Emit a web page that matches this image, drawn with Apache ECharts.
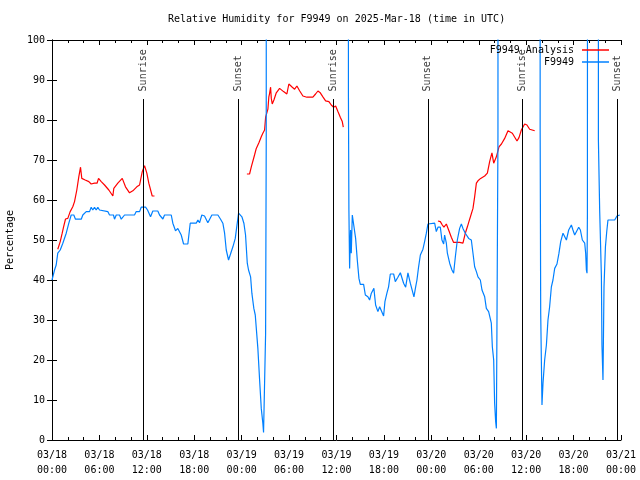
<!DOCTYPE html>
<html>
<head>
<meta charset="utf-8">
<script src="https://cdn.jsdelivr.net/npm/echarts@6/dist/echarts.min.js"></script>
<style>html,body{margin:0;padding:0;background:#fff}#c{width:640px;height:480px}</style>
</head>
<body>
<div id="c"></div>
<script>
const titleText = 'Relative Humidity for F9949 on 2025-Mar-18 (time in UTC)';
const tickLabels = ['03/18\n00:00','03/18\n06:00','03/18\n12:00','03/18\n18:00','03/19\n00:00','03/19\n06:00','03/19\n12:00','03/19\n18:00','03/20\n00:00','03/20\n06:00','03/20\n12:00','03/20\n18:00','03/21\n00:00'];
const seriesNames = ['F9949 Analysis', 'F9949'];

// Observations (hours since 03/18 00:00 UTC, %); 999 = off-scale values
const obsHours = [0.00,0.32,0.53,0.73,1.04,1.37,1.80,2.13,2.43,2.76,2.97,3.70,3.90,4.33,4.75,4.96,5.16,5.38,5.59,5.80,6.01,6.23,7.06,7.28,7.78,7.91,8.13,8.54,8.76,8.96,9.18,10.44,10.66,11.08,11.29,11.84,12.09,12.25,12.47,12.76,13.39,13.61,14.03,14.24,15.09,15.29,15.63,15.92,16.14,16.35,16.65,17.19,17.49,18.25,18.46,18.67,18.96,19.30,19.72,19.94,20.23,20.99,21.33,21.62,21.84,22.05,22.34,22.59,22.89,23.19,23.44,23.61,23.82,24.03,24.28,24.49,24.71,24.87,25.13,25.29,25.54,25.72,25.89,26.05,26.27,26.48,26.68,26.77,26.94,27.03,27.11,27.19,
  37.44,37.51,37.57,37.66,37.78,37.87,38.00,38.20,38.42,38.63,38.84,39.01,39.43,39.65,39.97,40.19,40.41,40.73,40.95,41.24,41.46,41.71,41.96,42.13,42.38,42.59,42.81,43.23,43.44,43.77,44.08,44.33,44.49,44.75,45.04,45.34,45.59,45.80,46.01,46.18,46.39,46.61,46.94,47.15,47.37,47.57,48.42,48.63,48.84,49.14,49.34,49.56,49.68,49.90,50.03,50.32,50.61,50.82,51.04,51.29,51.58,51.80,52.00,52.30,52.72,53.06,53.27,53.48,53.70,53.90,54.20,54.41,54.75,54.96,55.25,55.59,55.72,55.89,56.01,56.14,56.23,56.30,56.43,56.56,
  61.71,61.77,61.84,62.00,62.13,62.34,62.56,62.76,62.97,63.19,63.39,63.61,63.90,64.15,64.37,64.66,64.87,65.09,65.38,65.72,65.92,66.14,66.35,66.65,66.86,67.11,67.41,67.53,67.62,67.70,67.75,67.87,
  69.09,69.14,69.30,69.52,69.59,69.72,69.85,70.03,70.19,70.35,71.20,71.49,71.84];
const obsValues = [40,42.5,43.75,46.7,47.5,49.2,51.7,54.2,56.25,56.25,55.2,55.2,56.25,57.1,57.1,58.2,57.5,58.2,57.5,58.2,57.5,57.1,57.1,56.25,56.25,55.2,56.25,56.25,55.2,55.2,56.25,56.25,57.1,57.1,58.2,58.2,57.5,57.25,55.8,57.25,57.25,56.25,55.25,56.25,56.25,54.2,52.3,52.9,53.1,51.25,49,49,54.2,54.2,55,54.3,56.25,56,54.3,54.3,56.25,56.25,55.2,54.2,51.7,47.5,45,45,48.3,50.4,54.2,56.7,57.1,55.8,54.2,51.25,44.2,42.5,40.8,36.7,32.9,31.25,31.25,22.9,15,7.9,4.2,1.9,1.9,26.7,75.8,999,
  999,85.8,57.5,42.9,52.5,46.7,56.25,56.25,50.4,45,40.4,38.9,38.9,36.25,35.8,35,36.7,37.9,33.75,32.1,33.3,33.75,31,34.6,36.7,38.3,41.5,41.5,39.6,40.7,41.8,41.8,39.2,38.2,41.8,39.2,38.75,35.8,38.2,40,43.3,46.25,47.7,49.6,51.7,54,54.2,52.1,53.2,53.2,50,49,51.25,49.2,46.7,44.2,42.5,41.7,45.8,50,52.9,54,52.9,51.7,50.4,50,46.7,43.3,42.1,40.8,40,37.5,35.8,32.9,32.1,29.2,23.3,20,9.2,4.6,2.9,27,75.8,999,
  999,77.5,31.7,8.75,14.2,20,23.75,30,33.3,38.3,40,42.9,44,46.7,49.6,51.7,51.7,50,52.5,53.75,52.5,51.25,51.25,53.2,52.5,50,49.2,46.7,42.5,41.7,56.7,999,
  999,75,57.5,40.8,23.75,15,38.3,48.3,52,55,55,56,56.25];

// Analysis (hours, %); null = no analysis
const anaHours = [0.73,1.04,1.29,1.46,1.71,2.00,2.30,2.63,2.85,3.14,3.39,3.61,3.77,4.20,4.66,4.96,5.38,5.70,5.89,6.23,6.65,7.19,7.70,7.82,8.33,8.89,9.30,9.81,10.23,10.73,11.08,11.42,11.71,12.00,12.25,12.68,12.97,
  18.00,
  24.66,25.00,25.22,25.63,25.85,26.18,26.48,26.68,26.90,27.03,27.32,27.44,27.53,27.66,27.75,27.87,28.08,28.38,28.80,29.30,29.72,29.97,30.41,30.70,30.99,31.33,31.75,32.25,33.01,33.35,33.65,33.95,34.28,34.62,35.04,35.34,35.63,35.89,36.18,36.48,36.73,36.86,
  42.00,
  48.84,49.14,49.39,49.59,49.90,50.19,50.53,50.82,51.58,52.00,52.30,52.56,52.85,53.06,53.27,53.48,53.70,53.90,54.24,54.75,55.09,55.38,55.67,55.89,56.23,56.56,56.87,57.28,57.70,57.91,58.25,58.84,59.09,59.39,59.81,60.10,60.44,60.66,61.08];
const anaValues = [47.7,49.6,51.7,53.2,55.25,55.4,57.1,58.3,59.6,62.5,65.8,68.2,65.4,65,64.6,64,64.2,64.2,65.4,64.6,63.75,62.5,61,62.9,64.2,65.4,63.3,61.8,62.3,63.3,63.75,67.1,68.6,66.7,64.2,61,61,
  null,
  66.5,66.5,68.3,71.25,72.9,74.3,75.8,76.7,77.5,80.7,82.7,85.8,86.6,88.2,85.4,84,85,86.8,87.9,87.1,86.5,89,88.2,87.7,88.5,87.3,86,85.7,85.7,86.5,87.25,86.8,85.8,84.8,84.6,83.75,83.2,83.5,82.1,80.7,79.6,78.2,
  null,
  54.75,54.6,53.75,53.2,54,52.5,50.7,49.4,49.4,49.2,51.7,53.3,55.2,55.4,57.9,60.8,64.2,64.8,65.4,66,66.7,69.6,71.8,69.2,70.8,73.3,74,75.4,77.3,77.7,76.7,74.75,75.6,77.5,79,78.75,77.7,77.3,77.3];

// Sunrise / sunset (hours)
const eventHours = [11.6, 23.53, 35.57, 47.55, 59.55, 71.55];
const eventNames = ['Sunrise', 'Sunset', 'Sunrise', 'Sunset', 'Sunrise', 'Sunset'];
const eventLineTop = 85.25;
const eventLabelAt = 86.9;

const FONT = 'DejaVu Sans Mono';
const obsData = obsHours.map((h, i) => [h, obsValues[i]]);
const anaData = anaHours.map((h, i) => [h, anaValues[i] == null ? '-' : anaValues[i]]);

const chart = echarts.init(document.getElementById('c'), null, {renderer: 'canvas'});
const axisCommon = {
  min: 0, max: 72, interval: 6, type: 'value',
  axisLine: {show: true, onZero: false, lineStyle: {color: '#000', width: 1}},
  axisTick: {show: true, inside: true, length: 5, lineStyle: {color: '#000'}},
  minorTick: {show: true, splitNumber: 3, length: 3, lineStyle: {color: '#000'}},
  splitLine: {show: false}
};
chart.setOption({
  animation: false,
  backgroundColor: '#fff',
  title: {
    text: titleText, left: 163, top: 9,
    textStyle: {fontFamily: FONT, fontSize: 10, fontWeight: 'normal', color: '#000'}
  },
  legend: {
    data: seriesNames, orient: 'vertical', right: 26, top: 39, align: 'right',
    icon: 'rect', itemWidth: 27, itemHeight: 1.5, itemGap: 0,
    textStyle: {fontFamily: FONT, fontSize: 10, lineHeight: 12, color: '#000', padding: [0, 3, 0, 0]}
  },
  grid: {left: 52, right: 19, top: 40, bottom: 40, containLabel: false, outerBoundsMode: 'none'},
  xAxis: [
    Object.assign({}, axisCommon, {
      position: 'bottom',
      axisLabel: {show: true, margin: 8, lineHeight: 15, fontFamily: FONT, fontSize: 10, color: '#000',
        formatter: v => tickLabels[Math.round(v / 6)]}
    }),
    Object.assign({}, axisCommon, {position: 'top', axisLabel: {show: false}})
  ],
  yAxis: [
    {type: 'value', min: 0, max: 100, interval: 10, position: 'left',
     name: 'Percentage', nameLocation: 'middle', nameGap: 37, nameRotate: 90,
     nameTextStyle: {fontFamily: FONT, fontSize: 10, color: '#000'},
     axisLine: {show: true, lineStyle: {color: '#000'}},
     axisTick: {show: true, inside: true, length: 5, lineStyle: {color: '#000'}},
     axisLabel: {margin: 7, fontFamily: FONT, fontSize: 10, color: '#000'},
     splitLine: {show: false}},
    {type: 'value', min: 0, max: 100, interval: 10, position: 'right',
     axisLine: {show: true, lineStyle: {color: '#000'}},
     axisTick: {show: true, inside: true, length: 5, lineStyle: {color: '#000'}},
     axisLabel: {show: false}, splitLine: {show: false}}
  ],
  series: [
    {
      name: 'events', type: 'scatter', symbolSize: 1, silent: true,
      itemStyle: {color: 'rgba(0,0,0,0)'},
      data: eventHours.map((h, i) => ({value: [h, eventLabelAt], name: eventNames[i]})),
      label: {show: true, position: 'inside', rotate: 90, align: 'left', verticalAlign: 'middle',
        formatter: p => p.name, fontFamily: FONT, fontSize: 10, color: '#000', offset: [1, 0]},
      markLine: {
        silent: true, symbol: 'none', animation: false,
        label: {show: false},
        lineStyle: {color: '#000', width: 1, type: 'solid'},
        data: eventHours.map(h => [{coord: [h, 0]}, {coord: [h, eventLineTop]}])
      }
    },
    {
      name: seriesNames[0], type: 'line', data: anaData, symbol: 'none', clip: true,
      connectNulls: false, color: '#ff0000', lineStyle: {color: '#ff0000', width: 1.2}
    },
    {
      name: seriesNames[1], type: 'line', data: obsData, symbol: 'none', clip: true,
      color: '#0080ff', lineStyle: {color: '#0080ff', width: 1.2}
    }
  ]
});
</script>
</body>
</html>
